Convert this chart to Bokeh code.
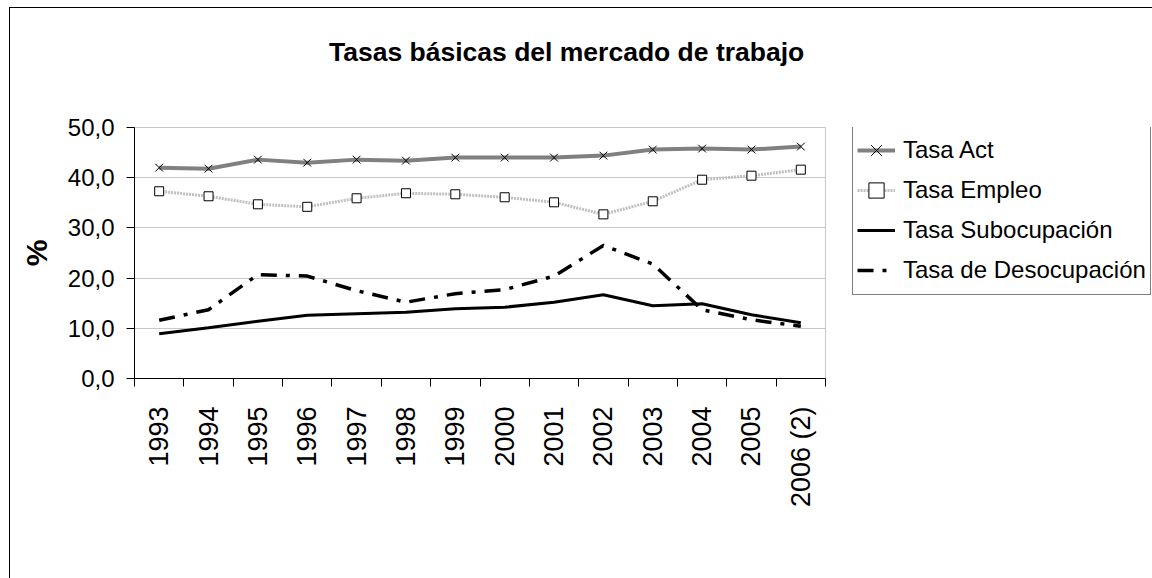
import math
from bokeh.plotting import figure
from bokeh.layouts import column, row
from bokeh.models import FixedTicker, Legend, LegendItem, Range1d, Div
from bokeh.embed import file_html
from bokeh.resources import INLINE

# ---- data ----
years = ["1993", "1994", "1995", "1996", "1997", "1998", "1999", "2000",
         "2001", "2002", "2003", "2004", "2005", "2006 (2)"]
tasa_act = [42.0, 41.8, 43.6, 43.0, 43.6, 43.4, 44.0, 44.0, 44.0, 44.4, 45.6, 45.8, 45.6, 46.2]
tasa_empleo = [37.3, 36.3, 34.7, 34.2, 35.9, 36.9, 36.7, 36.1, 35.1, 32.7, 35.3, 39.6, 40.4, 41.6]
tasa_subocupacion = [8.9, 10.1, 11.4, 12.6, 12.9, 13.2, 13.9, 14.2, 15.2, 16.7, 14.5, 14.9, 12.7, 11.1]
tasa_desocupacion = [11.6, 13.7, 20.7, 20.4, 17.5, 15.2, 16.9, 17.7, 20.4, 26.5, 22.8, 13.7, 11.7, 10.4]
y_ticks = [0, 10, 20, 30, 40, 50]
y_tick_labels = ["0,0", "10,0", "20,0", "30,0", "40,0", "50,0"]
series_names = ["Tasa Act", "Tasa Empleo", "Tasa Subocupación", "Tasa de Desocupación"]
title_text = "Tasas básicas del mercado de trabajo"

FONT = "Liberation Sans"
x = [i + 0.5 for i in range(len(years))]

# line styles shared by chart and legend
ACT = dict(line_color="#808080", line_width=4)
EMP = dict(line_color="#c0c0c0", line_width=3, line_dash="2 1")
SUB = dict(line_color="black", line_width=3)
DES = dict(line_color="black", line_width=3.5, line_dash="16 9 4 9")

title_div = Div(text=title_text, width=1142, height=100, margin=0,
                styles={"font-family": FONT, "font-size": "26.5px", "font-weight": "bold",
                        "color": "black", "padding-left": "319px", "padding-top": "29px",
                        "box-sizing": "border-box", "white-space": "nowrap",
                        "line-height": "normal"})

# ---- main chart ----
p = figure(width=816, height=470, x_range=Range1d(0, len(years)), y_range=Range1d(0, 50),
           output_backend="svg", toolbar_location=None,
           min_border_left=124, min_border_right=1, min_border_top=19, min_border_bottom=200)
p.outline_line_color = "#c8c8c8"
p.background_fill_color = "white"
p.border_fill_color = "white"

p.xaxis.ticker = FixedTicker(ticks=x, minor_ticks=list(range(len(years) + 1)))
p.xaxis.major_label_overrides = {xi: yl for xi, yl in zip(x, years)}
p.xaxis.major_tick_out = 0
p.xaxis.major_tick_in = 0
p.xaxis.minor_tick_out = 8
p.xaxis.minor_tick_in = 0
p.xaxis.minor_tick_line_color = "black"
p.xaxis.major_label_orientation = math.pi / 2
p.xaxis.major_label_standoff = 20
p.xaxis.major_label_text_font = FONT
p.xaxis.major_label_text_font_size = "27px"
p.xaxis.major_label_text_color = "black"
p.xaxis.axis_line_color = "black"

p.yaxis.ticker = FixedTicker(ticks=y_ticks)
p.yaxis.major_label_overrides = {t: l for t, l in zip(y_ticks, y_tick_labels)}
p.yaxis.major_tick_out = 8
p.yaxis.major_tick_in = 0
p.yaxis.minor_tick_out = 0
p.yaxis.minor_tick_in = 0
p.yaxis.major_tick_line_color = "black"
p.yaxis.axis_line_color = "black"
p.yaxis.major_label_standoff = 12
p.yaxis.major_label_text_font = FONT
p.yaxis.major_label_text_font_size = "24px"
p.yaxis.major_label_text_color = "black"
p.yaxis.axis_label = "%"
p.yaxis.axis_label_text_font = FONT
p.yaxis.axis_label_text_font_size = "30px"
p.yaxis.axis_label_text_font_style = "bold"
p.yaxis.axis_label_text_color = "black"
p.yaxis.axis_label_standoff = 12

p.xgrid.visible = False
p.ygrid.ticker = FixedTicker(ticks=y_ticks)
p.ygrid.grid_line_color = "#c8c8c8"
p.ygrid.grid_line_width = 1

p.line(x, tasa_act, **ACT)
p.scatter(x, tasa_act, marker="x", size=11, line_color="black", line_width=1)
p.line(x, tasa_empleo, **EMP)
p.scatter(x, tasa_empleo, marker="square", size=9, fill_color="white",
          line_color="black", line_width=1)
p.line(x, tasa_subocupacion, **SUB)
p.line(x, tasa_desocupacion, **DES)

# ---- legend canvas (series re-drawn off-view, only their legend glyphs show) ----
q = figure(width=326, height=470, x_range=Range1d(100, 101), y_range=Range1d(0, 50),
           output_backend="svg", toolbar_location=None, x_axis_type=None, y_axis_type=None,
           min_border_left=0, min_border_right=0, min_border_top=0, min_border_bottom=0)
q.outline_line_color = None
q.xgrid.visible = False
q.ygrid.visible = False
l_act = q.line(x, tasa_act, **ACT)
l_act_m = q.scatter(x, tasa_act, marker="x", size=7, line_color="black", line_width=1)
l_emp = q.line(x, tasa_empleo, **EMP)
l_emp_m = q.scatter(x, tasa_empleo, marker="square", size=6, fill_color="white",
                    line_color="black", line_width=1)
l_sub = q.line(x, tasa_subocupacion, **SUB)
l_des = q.line(x, tasa_desocupacion, **DES)

legend = Legend(items=[
    LegendItem(label=series_names[0], renderers=[l_act, l_act_m]),
    LegendItem(label=series_names[1], renderers=[l_emp, l_emp_m]),
    LegendItem(label=series_names[2], renderers=[l_sub]),
    LegendItem(label=series_names[3], renderers=[l_des]),
], location=(26, 83), glyph_width=38, glyph_height=40, label_standoff=8, padding=4,
    spacing=0, margin=0, border_line_color="black", border_line_width=1,
    label_text_font=FONT, label_text_font_size="24px", label_text_color="black",
    background_fill_color="white", background_fill_alpha=1.0)
q.add_layout(legend)

layout = column(title_div, row(p, q, spacing=0), spacing=0,
                styles={"border-left": "1px solid black", "border-top": "1px solid black",
                        "margin-left": "9px", "margin-top": "7px"})

open("out.html", "w").write(file_html(layout, INLINE))
